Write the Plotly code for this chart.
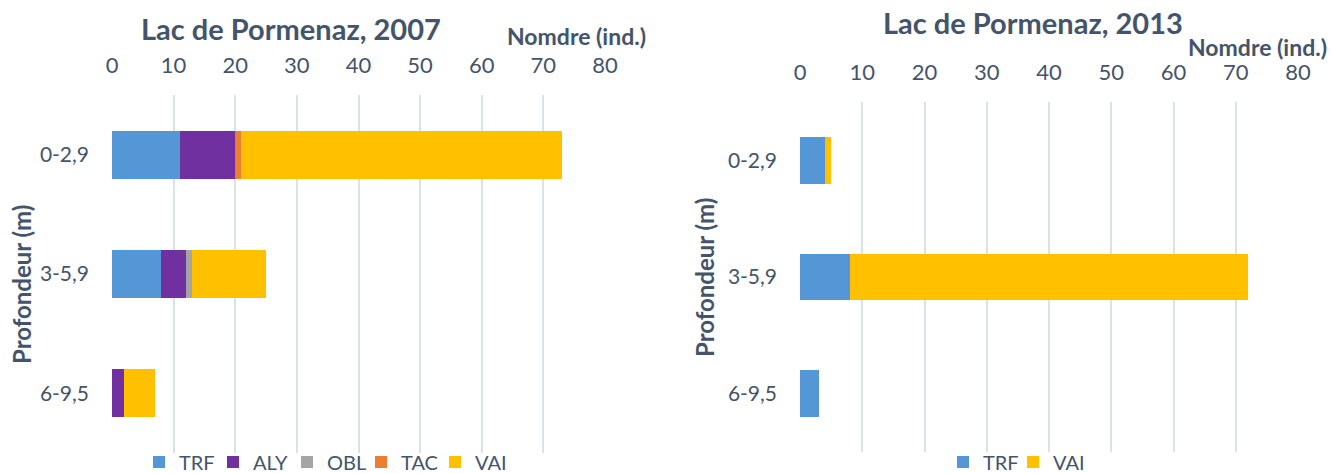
import plotly.graph_objects as go

categories = ["0-2,9", "3-5,9", "6-9,5"]

# 2007 values (individuals)
trf_2007 = [11, 8, 0]
aly_2007 = [9, 4, 2]
obl_2007 = [0, 1, 0]
tac_2007 = [1, 0, 0]
vai_2007 = [52, 12, 5]

# 2013 values
trf_2013 = [4, 8, 3]
vai_2013 = [1, 64, 0]

x_ticks = [0, 10, 20, 30, 40, 50, 60, 70, 80]

colors = {"TRF": "#5596D6", "ALY": "#7030A0", "OBL": "#A5A5A5", "TAC": "#ED7D31", "VAI": "#FFC000"}
TXT = "#44546A"
FONT = "Lato"

fig = go.Figure()

for name, vals in [("TRF", trf_2007), ("ALY", aly_2007), ("OBL", obl_2007), ("TAC", tac_2007), ("VAI", vai_2007)]:
    fig.add_trace(go.Bar(y=categories, x=vals, name=name, orientation="h",
                         marker=dict(color=colors[name], line=dict(width=0)),
                         xaxis="x", yaxis="y", legend="legend"))

for name, vals in [("TRF", trf_2013), ("VAI", vai_2013)]:
    fig.add_trace(go.Bar(y=categories, x=vals, name=name, orientation="h",
                         marker=dict(color=colors[name], line=dict(width=0)),
                         xaxis="x2", yaxis="y2", legend="legend2"))

xcommon = dict(range=[0, 80], tickvals=x_ticks, side="top", showgrid=True,
               gridcolor="#DCE1E8", gridwidth=2, zeroline=False, showline=False,
               tickfont=dict(family=FONT, size=22, color=TXT), automargin=False,
               ticklabelstandoff=17)
ycommon = dict(autorange="reversed", showgrid=False, zeroline=False, showline=False,
               tickfont=dict(family=FONT, size=21, color=TXT), ticklabelstandoff=22,
               automargin=False)

legfont = dict(family=FONT, size=20, color=TXT)

fig.update_layout(
    width=1331, height=473,
    margin=dict(l=0, r=0, t=0, b=0, autoexpand=False),
    paper_bgcolor="white", plot_bgcolor="white",
    barmode="stack", bargap=0.6,
    xaxis=dict(domain=[112/1331, 605/1331], anchor="y", **xcommon),
    yaxis=dict(domain=[1-453/473, 1-95/473], anchor="x", **ycommon),
    xaxis2=dict(domain=[800/1331, 1298/1331], anchor="y2", **xcommon),
    yaxis2=dict(domain=[1-452/473, 1-102/473], anchor="x2", **ycommon),
    legend=dict(orientation="h", x=139/1331, y=1-462/473, xanchor="left", yanchor="middle",
                font=legfont, bgcolor="rgba(0,0,0,0)", itemwidth=30, traceorder="normal",
                entrywidth=29, entrywidthmode="pixels"),
    legend2=dict(orientation="h", x=943/1331, y=1-462/473, xanchor="left", yanchor="middle",
                 font=legfont, bgcolor="rgba(0,0,0,0)", itemwidth=30, traceorder="normal",
                 entrywidth=25, entrywidthmode="pixels"),
    annotations=[
        dict(text="<b>Lac de Pormenaz, 2007</b>", x=291/1331, y=1-28/473, xref="paper", yref="paper",
             showarrow=False, font=dict(family=FONT, size=29, color=TXT), xanchor="center", yanchor="middle"),
        dict(text="<b>Nomdre (ind.)</b>", x=648/1331, y=1-36/473, xref="paper", yref="paper",
             showarrow=False, font=dict(family=FONT, size=23, color=TXT), xanchor="right", yanchor="middle"),
        dict(text="<b>Profondeur (m)</b>", x=21/1331, y=1-285/473, xref="paper", yref="paper", textangle=-90,
             showarrow=False, font=dict(family=FONT, size=24, color=TXT), xanchor="center", yanchor="middle"),
        dict(text="<b>Lac de Pormenaz, 2013</b>", x=1033/1331, y=1-23/473, xref="paper", yref="paper",
             showarrow=False, font=dict(family=FONT, size=29, color=TXT), xanchor="center", yanchor="middle"),
        dict(text="<b>Nomdre (ind.)</b>", x=1329/1331, y=1-47/473, xref="paper", yref="paper",
             showarrow=False, font=dict(family=FONT, size=23, color=TXT), xanchor="right", yanchor="middle"),
        dict(text="<b>Profondeur (m)</b>", x=704/1331, y=1-278/473, xref="paper", yref="paper", textangle=-90,
             showarrow=False, font=dict(family=FONT, size=24, color=TXT), xanchor="center", yanchor="middle"),
    ],
)

fig.write_html("out.html", config={"displayModeBar": False},
               post_script="document.body.style.margin='0px';")
